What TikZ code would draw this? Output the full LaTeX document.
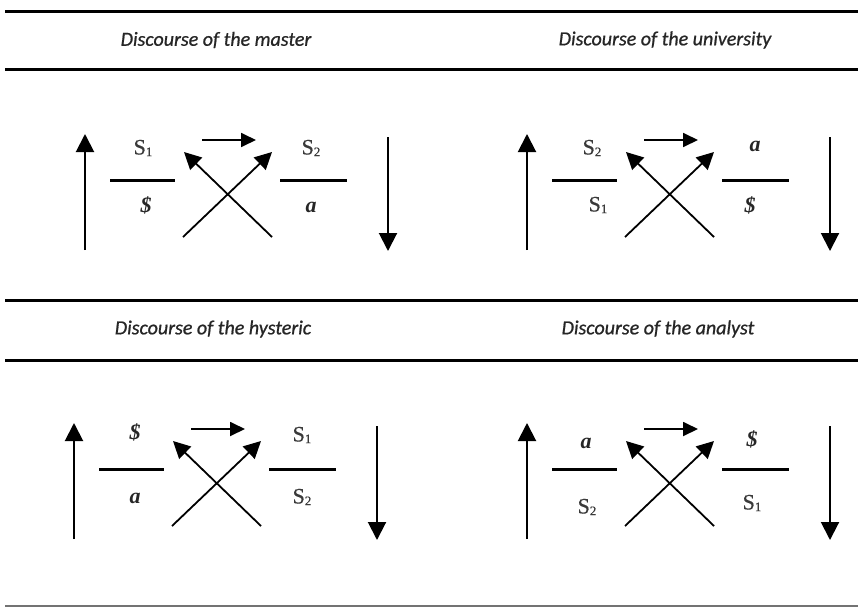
\documentclass[tikz,border=0pt]{standalone}
\usepackage{fontspec}
\setmainfont{Liberation Serif}
\newfontfamily\titlefont[FakeBold=0.8]{Carlito}
\newfontfamily\symfont[FakeBold=0.6]{Liberation Serif}
\usetikzlibrary{arrows.meta}
\definecolor{sgray}{HTML}{3A3A3A}
\tikzset{
  rule/.style={line width=3pt, black},
  botrule/.style={line width=2pt, black!55},
  bar/.style={line width=3pt},
  vert/.style={line width=2pt, -{Triangle[length=18pt,width=18pt]}},
  crossarr/.style={line width=1.8pt, -{Triangle[length=17pt,width=17pt]}},
  toparr/.style={line width=1.8pt, -{Triangle[length=15pt,width=14pt]}},
  title/.style={font=\titlefont\itshape\fontsize{20}{22}\selectfont, text=black!85, inner sep=0pt},
  sym/.style={font=\symfont\fontsize{22}{24}\selectfont, text=sgray, inner sep=0pt},
  lett/.style={font=\bfseries\itshape\fontsize{22}{24}\selectfont, text=black!85, inner sep=0pt},
}
\newcommand\Sone{S\raisebox{-0.08em}{\fontsize{13}{13}\selectfont 1}}
\newcommand\Stwo{S\raisebox{-0.08em}{\fontsize{13}{13}\selectfont 2}}
% #1 prefix, #2 dx, #3 dy
\newcommand\discourse[3]{%
  \begin{scope}[shift={(#2,#3)}]
    \coordinate (#1ua) at (85,250);  \coordinate (#1ub) at (85,134);
    \coordinate (#1la) at (110,180); \coordinate (#1lb) at (175,180);
    \coordinate (#1ta) at (202,140); \coordinate (#1tb) at (256,140);
    \coordinate (#1xa) at (183,237); \coordinate (#1xb) at (272,152);
    \coordinate (#1ya) at (272,237); \coordinate (#1yb) at (184,152);
    \coordinate (#1ra) at (280,180); \coordinate (#1rb) at (347,180);
    \coordinate (#1da) at (388,137); \coordinate (#1db) at (388,251);
    \draw[vert] (#1ua) -- (#1ub);
    \draw[bar] (#1la) -- (#1lb);
    \draw[toparr] (#1ta) -- (#1tb);
    \draw[crossarr] (#1xa) -- (#1xb);
    \draw[crossarr] (#1ya) -- (#1yb);
    \draw[bar] (#1ra) -- (#1rb);
    \draw[vert] (#1da) -- (#1db);
  \end{scope}}
\begin{document}
\begin{tikzpicture}[x=1pt,y=-1pt]
\useasboundingbox (0,0) rectangle (858,608);
\fill[white] (0,0) rectangle (858,608);
% rules
\coordinate (r1a) at (5,11);  \coordinate (r1b) at (858,11);
\coordinate (r2a) at (5,69);  \coordinate (r2b) at (858,69);
\coordinate (r3a) at (5,300); \coordinate (r3b) at (858,300);
\coordinate (r4a) at (5,360); \coordinate (r4b) at (858,360);
\coordinate (r5a) at (5,606); \coordinate (r5b) at (858,606);
\draw[rule] (r1a) -- (r1b);
\draw[rule] (r2a) -- (r2b);
\draw[rule] (r3a) -- (r3b);
\draw[rule] (r4a) -- (r4b);
\draw[botrule] (r5a) -- (r5b);
% titles
\node[title] (t1) at (216,40) {Discourse of the master};
\node[title] (t2) at (665,40) {Discourse of the university};
\node[title] (t3) at (213,329) {Discourse of the hysteric};
\node[title] (t4) at (658,329) {Discourse of the analyst};
% diagrams
\discourse{m}{0}{0}
\discourse{u}{442}{0}
\discourse{h}{-11}{289}
\discourse{n}{442}{289}
% master
\node[sym]  (m1) at (143,148) {\Sone};
\node[lett] (m2) at (146,205) {\$};
\node[sym]  (m3) at (311,148) {\Stwo};
\node[lett] (m4) at (311,207) {a};
% university
\node[sym]  (u1) at (592,148) {\Stwo};
\node[sym]  (u2) at (598,205) {\Sone};
\node[lett] (u3) at (755,146) {a};
\node[lett] (u4) at (750,205) {\$};
% hysteric
\node[lett] (h1) at (135,432) {\$};
\node[lett] (h2) at (135,498) {a};
\node[sym]  (h3) at (302,435) {\Sone};
\node[sym]  (h4) at (302,497) {\Stwo};
% analyst
\node[lett] (n1) at (586,443) {a};
\node[sym]  (n2) at (587,507) {\Stwo};
\node[lett] (n3) at (752,439) {\$};
\node[sym]  (n4) at (752,503) {\Sone};
\end{tikzpicture}
\end{document}
